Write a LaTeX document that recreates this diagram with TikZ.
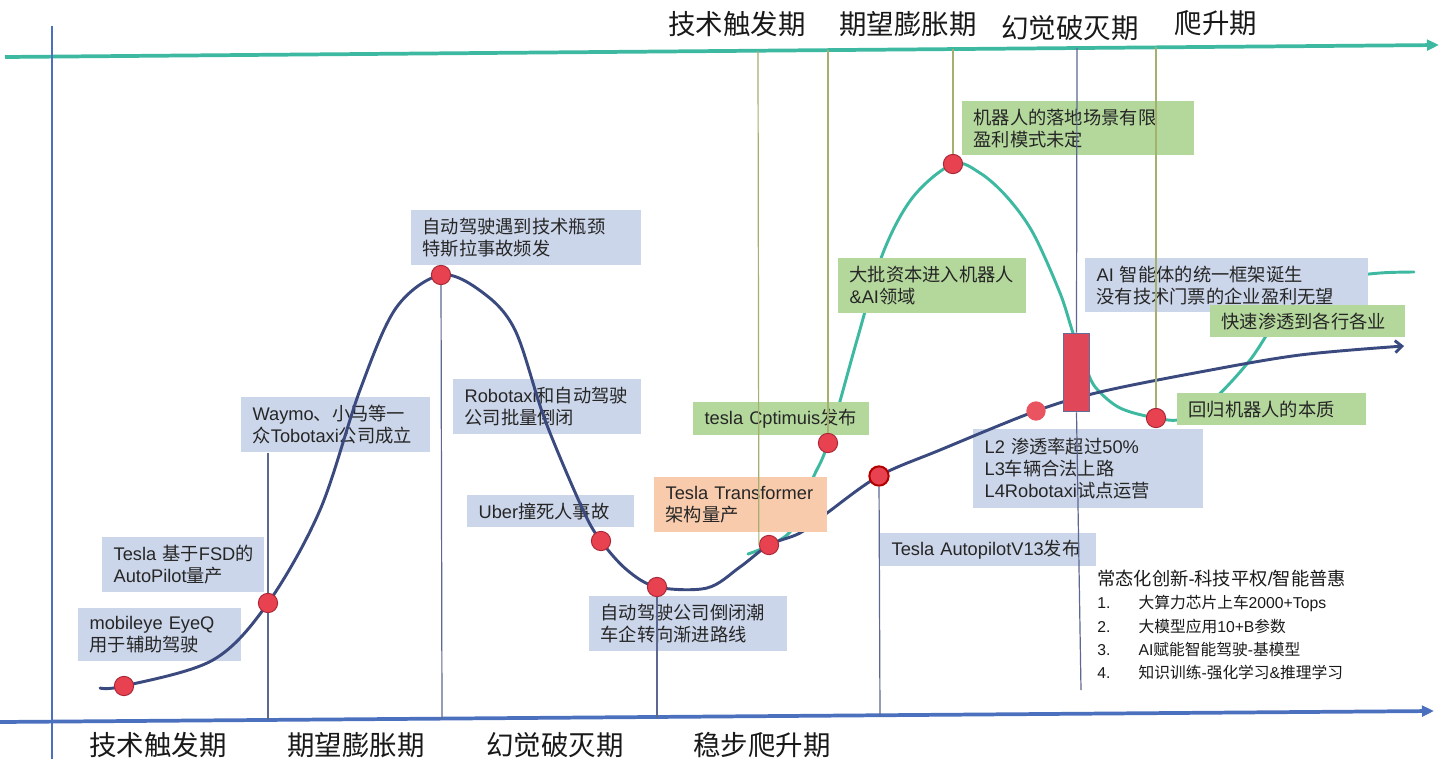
\documentclass[tikz,border=0pt]{standalone}
\usepackage{fontspec}
\setmainfont{Liberation Sans}
\newfontfamily\cjkf{Noto Sans CJK SC}
\newfontfamily\latf{Liberation Sans}
\usetikzlibrary{arrows.meta}
% automatic switch between Latin and CJK fonts
\XeTeXinterchartokenstate=1
\newXeTeXintercharclass\cjkcls
\newcount\cjkc
\def\setcjkrange#1#2{\cjkc=#1 \loop\XeTeXcharclass\cjkc=\cjkcls\relax\ifnum\cjkc<#2 \advance\cjkc by 1 \repeat}
\setcjkrange{"3000}{"303F}
\setcjkrange{"4E00}{"9FFF}
\setcjkrange{"FF00}{"FFEF}
\XeTeXinterchartoks 0 \cjkcls = {\cjkf}
\XeTeXinterchartoks 4095 \cjkcls = {\cjkf}
\XeTeXinterchartoks \cjkcls 0 = {\latf}
\XeTeXinterchartoks 4095 0 = {\latf}
\definecolor{navyc}{HTML}{3B4A7E}
\definecolor{tealc}{HTML}{3DB9A2}
\definecolor{axisblue}{HTML}{4A70BE}
\definecolor{bluebox}{HTML}{CCD6EA}
\definecolor{greenbox}{HTML}{B4D89C}
\definecolor{orangebox}{HTML}{F8CBAD}
\definecolor{dotred}{HTML}{E8414F}
\definecolor{dotedge}{HTML}{A82838}
\definecolor{vdark}{HTML}{5C6890}
\definecolor{volive}{HTML}{A4B070}
\definecolor{candlered}{HTML}{E0485A}
\tikzset{
  bbox/.code n args={4}{%
    \pgfmathsetmacro\bxw{(#3-#1)*0.75}%
    \pgfmathsetmacro\bxh{(#4-#2)*0.75}%
    \pgfmathsetmacro\bxt{(#3-#1)*0.75-17}%
    \edef\bxtmp{\noexpand\tikzset{at={(#1,#2)},anchor=north west,minimum width=\bxw pt,minimum height=\bxh pt,text width=\bxt pt}}\bxtmp},
  boxbase/.style={inner xsep=8.5pt, inner ysep=2pt, align=left, font=\fontsize{13.7}{16.5}\selectfont, text=black!85},
  bluebx/.style={boxbase, fill=bluebox},
  greenbx/.style={boxbase, fill=greenbox},
  orangebx/.style={boxbase, fill=orangebox},
  dotn/.style={circle, minimum size=14.5pt, inner sep=0pt, fill=dotred, draw=dotedge, line width=0.7pt},
  vline/.style={vdark, line width=0.9pt},
  vlineo/.style={volive, line width=0.9pt},
  axlabel/.style={font=\fontsize{20.6}{24}\selectfont, text=black!90, inner sep=0pt},
  listtxt/.style={font=\fontsize{11.8}{14}\selectfont, text=black!90, anchor=west, inner sep=0pt},
  curvenavy/.style={navyc, line width=2.2pt, line cap=round},
  curveteal/.style={tealc, line width=2.2pt, line cap=round},
}
\begin{document}
\begin{tikzpicture}[x=0.75pt,y=-0.75pt]
\fill[white] (0,0) rectangle (1440,768);
\useasboundingbox (0,0) rectangle (1440,768);

% ---------- axes ----------
\coordinate (tA) at (5,57);
\coordinate (tB) at (1439,45);
\coordinate (bA) at (0,722);
\coordinate (bB) at (1434,711);
\coordinate (lA) at (52,26);
\coordinate (lB) at (52,759);
\draw[tealc, line width=2.8pt, -{Triangle[length=9pt,width=8pt]}] (tA) -- (tB);
\draw[axisblue, line width=2.8pt, -{Triangle[length=9pt,width=8pt]}] (bA) -- (bB);
\draw[axisblue, line width=2.2pt] (lA) -- (lB);

% ---------- key positions ----------
\coordinate (d1) at (124,686);
\coordinate (d2) at (268,603);
\coordinate (d3) at (441,275);
\coordinate (d4) at (601,541);
\coordinate (d5) at (657,587);
\coordinate (d6) at (769,545);
\coordinate (d7) at (879,476);
\coordinate (d8) at (1036,411);
\coordinate (t1) at (828,443);
\coordinate (t2) at (953,164);
\coordinate (t3) at (1156,418);

% ---------- teal curve (robots) ----------
\draw[curveteal] plot[smooth, tension=0.55] coordinates {(748,554) (790,532) (813,478) (t1) (857,340) (883,253) (913,197) (t2) (980,173) (1007,197) (1033,233) (1060,293) (1073,333) (1086,368) (1096,388) (1120,408) (t3) (1182,419) (1213,400) (1250,360) (1280,315) (1306,291) (1343,278) (1380,273) (1414,272)};

% ---------- boxes ----------
\node[bluebx, bbox={78}{608}{241}{661}] (b1) {mobileye~EyeQ\\用于辅助驾驶};
\node[bluebx, bbox={102}{537}{264}{592}] (b2) {Tesla~基于FSD的\\AutoPilot量产};
\node[bluebx, bbox={241}{397}{430}{452}] (b3) {Waymo、小马等一\\众Tobotaxi公司成立};
\node[bluebx, bbox={411}{210}{641}{265}] (b4) {自动驾驶遇到技术瓶颈\\特斯拉事故频发};
\node[bluebx, bbox={453}{379}{641}{434}] (b5) {Robotaxi和自动驾驶\\公司批量倒闭};
\node[bluebx, bbox={467}{495}{634}{527}] (b6) {Uber撞死人事故};
\node[bluebx, bbox={589}{596}{787}{651}] (b7) {自动驾驶公司倒闭潮\\车企转向渐进路线};
\node[bluebx, bbox={880}{533}{1096}{566}] (b8) {Tesla~AutopilotV13发布};
\node[bluebx, bbox={973}{429}{1203}{508}] (b9) {L2~渗透率超过50\%\\L3车辆合法上路\\L4Robotaxi试点运营};
\node[bluebx, bbox={1085}{258}{1368}{312}] (b10) {AI~智能体的统一框架诞生\\没有技术门票的企业盈利无望};
\node[greenbx, bbox={962}{101}{1194}{155}] (g1) {机器人的落地场景有限\\盈利模式未定};
\node[greenbx, bbox={838}{258}{1026}{313}] (g2) {大批资本进入机器人\\\&AI领域};
\node[greenbx, bbox={693}{402}{869}{435}] (g3) {tesla~Cptimuis发布};
\node[greenbx, bbox={1210}{305}{1405}{337}] (g4) {快速渗透到各行各业};
\node[greenbx, bbox={1177}{393}{1366}{425}] (g5) {回归机器人的本质};

% ---------- navy curve (autonomous driving) ----------
\draw[curvenavy, -{Straight Barb[length=5pt,width=9pt]}] plot[smooth, tension=0.55] coordinates {(100,688) (d1) (213,660) (d2) (320,510) (360,390) (396,308) (d3) (482,292) (515,330) (545,420) (583,510) (d4) (627,570) (d5) (707,588) (740,567) (d6) (800,533) (827,513) (d7) (940,450) (d8) (1100,392) (1200,372) (1300,355) (1404,346)};

\node[orangebx, bbox={654}{477}{827}{532}] (o1) {Tesla~Transformer\\架构量产};

% ---------- candle ----------
\node[fill=candlered, draw=navyc!80, line width=0.9pt, minimum width=20pt, minimum height=59pt, inner sep=0pt] (cd) at (1076.5,372.5) {};

% ---------- dots ----------
\node[dotn] (n1) at (d1) {};
\node[dotn] (n2) at (d2) {};
\node[dotn] (n3) at (d3) {};
\node[dotn] (n4) at (d4) {};
\node[dotn] (n5) at (d5) {};
\node[dotn] (n6) at (d6) {};
\node[dotn, draw=red!70!black, line width=1.5pt] (n7) at (d7) {};
\node[dotn, draw=none, fill=dotred!90!white] (n8) at (d8) {};
\node[dotn] (m1) at (t1) {};
\node[dotn] (m2) at (t2) {};
\node[dotn] (m3) at (t3) {};

% ---------- vertical phase lines ----------
\coordinate (a2) at (268,720);
\coordinate (a3) at (442,719);
\coordinate (a5) at (657,718);
\coordinate (a7) at (880,716);
\coordinate (u1) at (758,51);
\coordinate (u2) at (828,50);
\coordinate (u3) at (953,49);
\coordinate (u4) at (1077,48);
\coordinate (u5) at (1156,47);
\coordinate (w4) at (1081,690);
\draw[vline] (b3.south -| n2) -- (n2);
\draw[vline] (n2) -- (a2);
\draw[vline] (n3) -- (a3);
\draw[vline] (n5) -- (a5);
\draw[vline] (n7) -- (a7);
\draw[vlineo] (u1) -- (n6.west);
\draw[vlineo] (u2) -- (m1);
\draw[vlineo] (u3) -- (m2);
\draw[vline] (u4) -- (cd.north);
\draw[vline] (cd.south) -- (w4);
\draw[vlineo] (u5) -- (m3);

% ---------- phase labels ----------
\node[axlabel] (p1) at (737,24) {技术触发期};
\node[axlabel] (p2) at (908,24) {期望膨胀期};
\node[axlabel] (p3) at (1070,28) {幻觉破灭期};
\node[axlabel] (p4) at (1216,23) {爬升期};
\node[axlabel] (q1) at (158,745) {技术触发期};
\node[axlabel] (q2) at (356,745) {期望膨胀期};
\node[axlabel] (q3) at (555,745) {幻觉破灭期};
\node[axlabel] (q4) at (762,745) {稳步爬升期};

% ---------- list ----------
\node[listtxt, font=\fontsize{13.7}{16}\selectfont] (l0) at (1097,579) {常态化创新-科技平权/智能普惠};
\node[listtxt] (l1) at (1097,603) {\makebox[31pt][l]{1.}大算力芯片上车2000+Tops};
\node[listtxt] (l2) at (1097,627) {\makebox[31pt][l]{2.}大模型应用10+B参数};
\node[listtxt] (l3) at (1097,650) {\makebox[31pt][l]{3.}AI赋能智能驾驶-基模型};
\node[listtxt] (l4) at (1097,673) {\makebox[31pt][l]{4.}知识训练-强化学习\&推理学习};
\end{tikzpicture}
\end{document}
